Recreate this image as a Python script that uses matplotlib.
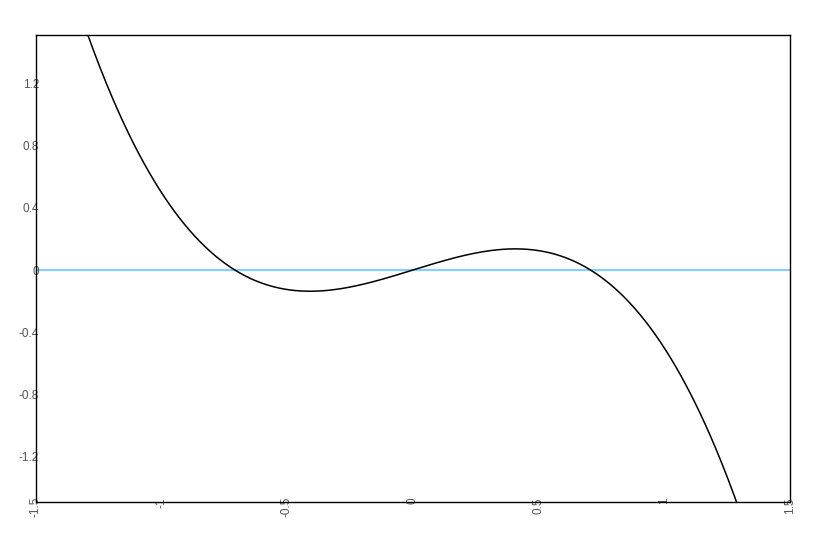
import numpy as np
import matplotlib
matplotlib.use("Agg")
import matplotlib.pyplot as plt

# Cubic curve: y = c3*x^3 + c2*x^2 + c1*x + c0
curve_coeffs = [-1.0, 0.0, 0.5, 0.0]
baseline_y = 0.0
x_range = [-1.5, 1.5]
y_range = [-1.49, 1.51]
x_ticks = [-1.5, -1.0, -0.5, 0.0, 0.5, 1.0, 1.5]
x_tick_labels = ["-1.5", "-1", "-0.5", "0", "0.5", "1", "1.5"]
y_ticks = [-1.2, -0.8, -0.4, 0.0, 0.4, 0.8, 1.2]
y_tick_labels = ["-1.2", "-0.8", "-0.4", "0", "0.4", "0.8", "1.2"]

plt.rcParams['font.family'] = ['Liberation Sans', 'DejaVu Sans']

fig = plt.figure(figsize=(8.26, 5.40), dpi=100)
ax = fig.add_axes([35.5/826, 1 - 502/540, (790-35.5)/826, (502-35)/540])

xs = np.linspace(x_range[0], x_range[1], 600)
ys = np.polyval(curve_coeffs, xs)
ax.axhline(baseline_y, color='#87cefa', lw=1.6, zorder=1)
ax.plot(xs, ys, color='black', lw=1.1, zorder=2)

ax.set_xlim(*x_range)
ax.set_ylim(*y_range)
ax.set_xticks(x_ticks)
ax.set_xticklabels(x_tick_labels, rotation=90)
ax.set_yticks(y_ticks)
ax.set_yticklabels(y_tick_labels)
ax.tick_params(axis='both', length=0, labelsize=8.5, labelcolor='#555555')
ax.tick_params(axis='y', pad=-2.5)
ax.tick_params(axis='x', pad=-3.6)
for s in ax.spines.values():
    s.set_linewidth(1.0)
    s.set_color('black')
for lab in ax.get_yticklabels():
    lab.set_zorder(5)

fig.savefig('out.png', dpi=100)
